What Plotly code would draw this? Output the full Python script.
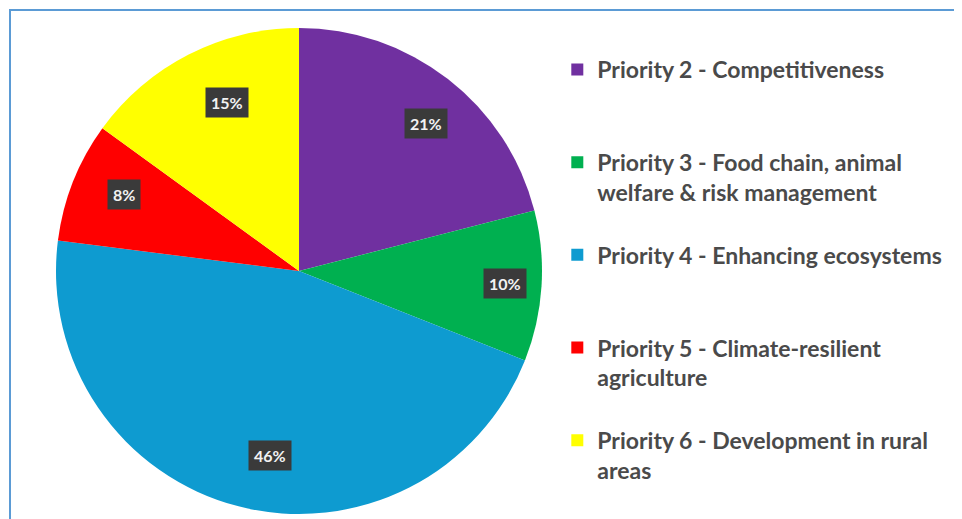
import math
import plotly.graph_objects as go

W, H = 962, 519
OFF = 8  # page body margin shifts the figure by this many pixels

labels = [
    "Priority 2 - Competitiveness",
    "Priority 3 - Food chain, animal<br>welfare & risk management",
    "Priority 4 - Enhancing ecosystems",
    "Priority 5 - Climate-resilient<br>agriculture",
    "Priority 6 - Development in rural<br>areas",
]
shares = [21, 10, 46, 8, 15]
colors = ["#7030A0", "#00B050", "#0E9BD0", "#FF0000", "#FFFF00"]

# pie placement in (figure) pixels
CX, CY, R = 299 - OFF, 271 - OFF, 243

# pad each legend entry to 3 lines so entries are spaced like the original
legend_names = []
for name in labels:
    n = name.count("<br>") + 1
    legend_names.append(name + "<br> " * (3 - n))

fig = go.Figure(go.Pie(
    labels=legend_names, values=shares, sort=False, direction="clockwise",
    rotation=0, marker=dict(colors=colors, line=dict(width=0)),
    textinfo="none", hoverinfo="label+percent",
    domain=dict(x=[(CX - R) / W, (CX + R) / W],
                y=[(H - CY - R) / H, (H - CY + R) / H]),
))

# dark label boxes near the outer edge of each slice
total = sum(shares)
cum = 0
for v in shares:
    mid = (cum + v / 2) / total * 2 * math.pi
    cum += v
    px = CX + 0.85 * R * math.sin(mid)
    py = CY - 0.85 * R * math.cos(mid)
    fig.add_annotation(
        x=px / W, y=1 - py / H, xref="paper", yref="paper",
        text=f"<b>{v}%</b>", showarrow=False,
        font=dict(family="Lato", size=16, color="#F2F2F2"),
        bgcolor="#3A3A3A", borderpad=5,
    )

# blue frame (top and left edges visible)
fig.add_shape(type="rect", xref="paper", yref="paper",
              x0=(10 - OFF) / W, x1=1.05, y0=-0.05, y1=1 - (10 - OFF) / H,
              line=dict(color="#5B9BD5", width=2), layer="below")

fig.update_layout(
    width=W, height=H,
    margin=dict(l=0, r=0, t=0, b=0),
    paper_bgcolor="white", plot_bgcolor="white",
    font=dict(family="Lato", size=23, color="#404040"),
    legend=dict(x=0.571, y=1 - 40 / H, xanchor="left", yanchor="top",
                valign="top", font=dict(family="Lato", size=23,
                                        color="#4A4A4A", weight="bold"),
                bgcolor="rgba(0,0,0,0)"),
    showlegend=True,
)

fig.write_html("out.html")
